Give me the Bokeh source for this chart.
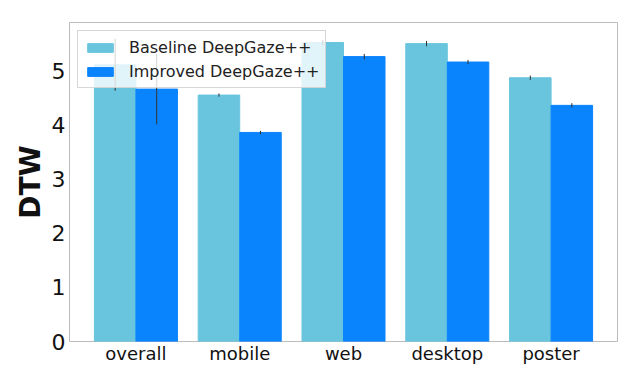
from bokeh.plotting import figure
from bokeh.models import Range1d, Legend, LegendItem, ColumnDataSource
from bokeh.embed import file_html
from bokeh.resources import INLINE

categories = ["overall", "mobile", "web", "desktop", "poster"]
baseline = [5.11, 4.55, 5.52, 5.50, 4.87]
baseline_err = [0.48, 0.03, 0.05, 0.05, 0.04]
improved = [4.66, 3.86, 5.26, 5.16, 4.36]
improved_err = [0.65, 0.03, 0.05, 0.04, 0.04]
series_names = ["Baseline DeepGaze++", "Improved DeepGaze++"]
colors = ["#69C5DE", "#0A84FD"]

idx = list(range(len(categories)))
width = 0.4

p = figure(width=632, height=376, output_backend="svg", toolbar_location=None,
           x_range=Range1d(-0.64, len(categories) - 1 + 0.64),
           y_range=Range1d(0, 5.89),
           min_border_left=69, min_border_right=15, min_border_top=22, min_border_bottom=35)

src_b = ColumnDataSource(dict(x=[i - width / 2 for i in idx], top=baseline,
                              lo=[v - e for v, e in zip(baseline, baseline_err)],
                              hi=[v + e for v, e in zip(baseline, baseline_err)]))
src_i = ColumnDataSource(dict(x=[i + width / 2 for i in idx], top=improved,
                              lo=[v - e for v, e in zip(improved, improved_err)],
                              hi=[v + e for v, e in zip(improved, improved_err)]))

rb = p.vbar(x="x", top="top", width=width, source=src_b, fill_color=colors[0], line_color=colors[0])
ri = p.vbar(x="x", top="top", width=width, source=src_i, fill_color=colors[1], line_color=colors[1])
p.segment(x0="x", y0="lo", x1="x", y1="hi", source=src_b, line_color="#333333", line_width=1)
p.segment(x0="x", y0="lo", x1="x", y1="hi", source=src_i, line_color="#333333", line_width=1)

legend = Legend(items=[LegendItem(label=series_names[0], renderers=[rb]),
                       LegendItem(label=series_names[1], renderers=[ri])],
                location="top_left")
legend.margin = 8
legend.padding = 6
legend.spacing = 4
legend.label_height = 20
legend.glyph_height = 11
legend.glyph_width = 32
legend.label_standoff = 13
legend.label_text_font = "DejaVu Sans"
legend.label_text_font_size = "16px"
legend.label_text_color = "#222222"
legend.background_fill_alpha = 0.8
legend.border_line_color = "#cccccc"
legend.border_line_alpha = 0.8
p.add_layout(legend)

p.xgrid.visible = False
p.ygrid.visible = False
p.outline_line_color = "#bbbbbb"
p.outline_line_width = 1

p.xaxis.ticker = idx
p.xaxis.major_label_overrides = {i: c for i, c in zip(idx, categories)}
p.yaxis.ticker = [0, 1, 2, 3, 4, 5]

for ax in (p.xaxis[0], p.yaxis[0]):
    ax.axis_line_color = None
    ax.major_tick_out = 0
    ax.major_tick_in = 0
    ax.minor_tick_out = 0
    ax.minor_tick_in = 0
    ax.major_label_text_font = "DejaVu Sans"
    ax.major_label_text_color = "#111111"

p.xaxis.major_label_text_font_size = "18px"
p.xaxis.major_label_standoff = 1
p.yaxis.major_label_text_font_size = "22px"
p.yaxis.major_label_standoff = 4
p.yaxis.axis_label = "DTW"
p.yaxis.axis_label_text_font = "DejaVu Sans"
p.yaxis.axis_label_text_font_style = "bold"
p.yaxis.axis_label_text_font_size = "28px"
p.yaxis.axis_label_text_color = "#111111"
p.yaxis.axis_label_standoff = 2

open("out.html", "w").write(file_html(p, INLINE))
